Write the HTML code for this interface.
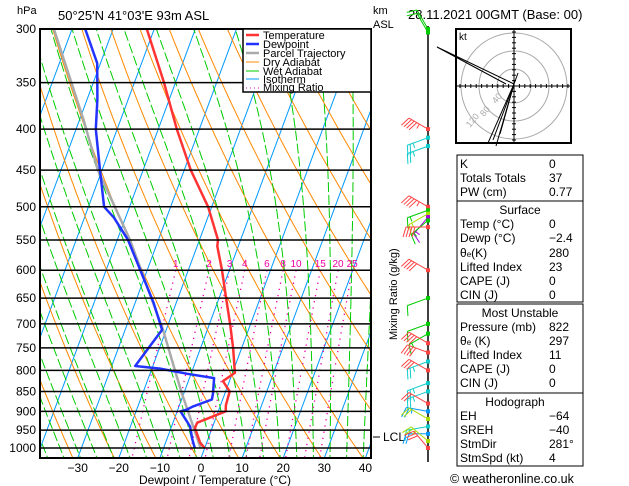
<!DOCTYPE html>
<html><head><meta charset="utf-8"><style>
html,body{margin:0;padding:0;background:#fff;}
svg{display:block;font-family:"Liberation Sans","DejaVu Sans",sans-serif;}
.t{font-size:12px;fill:#000;}
.s{font-size:11px;fill:#000;}
</style></head><body>
<svg id="root" width="629" height="486" viewBox="0 0 629 486" xmlns="http://www.w3.org/2000/svg">
<defs><clipPath id="clip"><rect x="40" y="29" width="331" height="429"/></clipPath></defs>
<rect width="629" height="486" fill="#fff"/>
<text x="17" y="14" class="s">hPa</text>
<text x="58" y="20" style="font-size:13px">50°25'N  41°03'E  93m  ASL</text>
<text x="373" y="14" class="s">km</text>
<text x="373" y="28" class="s">ASL</text>
<text x="408" y="19" style="font-size:13px">28.11.2021  00GMT  (Base: 00)</text>
<g id="bg" clip-path="url(#clip)"></g>
<g id="prof" clip-path="url(#clip)"></g>
<g id="axes"></g>
<rect x="40" y="29" width="331" height="429" fill="none" stroke="#000" stroke-width="2"/>
<g>
<rect x="243" y="29" width="128" height="63" fill="#fff" stroke="#000" stroke-width="1.5"/>
<line x1="246" y1="35" x2="259" y2="35" stroke="#f33" stroke-width="2.5"/><text x="263" y="39" class="s">Temperature</text>
<line x1="246" y1="44" x2="259" y2="44" stroke="#23f" stroke-width="2.5"/><text x="263" y="48" class="s">Dewpoint</text>
<line x1="246" y1="53" x2="259" y2="53" stroke="#aaa" stroke-width="2.5"/><text x="263" y="57" class="s">Parcel Trajectory</text>
<line x1="246" y1="62" x2="259" y2="62" stroke="#f80" stroke-width="1"/><text x="263" y="66" class="s">Dry Adiabat</text>
<line x1="246" y1="71" x2="259" y2="71" stroke="#0c0" stroke-width="1"/><text x="263" y="75" class="s">Wet Adiabat</text>
<line x1="246" y1="79" x2="259" y2="79" stroke="#09f" stroke-width="1"/><text x="263" y="83" class="s">Isotherm</text>
<line x1="246" y1="88" x2="259" y2="88" stroke="#e0a" stroke-width="1" stroke-dasharray="1,3"/><text x="263" y="91" class="s">Mixing Ratio</text>
</g>
<text transform="translate(397,340) rotate(-90)" class="s">Mixing Ratio (g/kg)</text>
<line x1="373" y1="437" x2="380" y2="437" stroke="#000"/>
<text x="383" y="441" class="t">LCL</text>
<line x1="428" y1="26" x2="428" y2="462" stroke="#000" stroke-width="1.5"/>
<g id="winds"></g>
<g>
<rect x="456" y="29" width="115" height="114" fill="#fff" stroke="#000" stroke-width="2"/>
<g fill="none" stroke="#aaa"><circle cx="514" cy="86" r="17"/><circle cx="514" cy="86" r="35"/><circle cx="514" cy="86" r="53"/></g>
<line x1="457" y1="86" x2="570" y2="86" stroke="#000"/><line x1="514" y1="30" x2="514" y2="142" stroke="#000"/>
<g id="hticks" stroke="#000"></g>
<text x="459" y="40" style="font-size:10px">kt</text>
<g fill="#aaa" style="font-size:9px"><text transform="translate(470,128) rotate(-50)">120</text><text transform="translate(484,117) rotate(-50)">80</text><text transform="translate(496,104) rotate(-50)">40</text></g>
<g stroke="#000" stroke-width="1"><polyline points="514,84 437,47 506,84" fill="none"/><line x1="514" y1="84" x2="488" y2="143"/><line x1="514" y1="84" x2="493" y2="140"/><line x1="514" y1="84" x2="496" y2="146"/><line x1="514" y1="84" x2="500" y2="134"/><line x1="514" y1="84" x2="518" y2="73"/></g>
</g>
<g class="t">
<rect x="457" y="155" width="126" height="46" fill="none" stroke="#000"/>
<text x="460" y="168">K</text><text x="549" y="168">0</text>
<text x="460" y="182">Totals Totals</text><text x="549" y="182">37</text>
<text x="460" y="196">PW (cm)</text><text x="549" y="196">0.77</text>
<rect x="457" y="201" width="126" height="101" fill="none" stroke="#000"/>
<text x="520" y="214" text-anchor="middle">Surface</text>
<text x="460" y="228">Temp (°C)</text><text x="549" y="228">0</text>
<text x="460" y="242">Dewp (°C)</text><text x="549" y="242">−2.4</text>
<text x="460" y="257">θ<tspan style="font-size:8px">e</tspan>(K)</text><text x="549" y="257">280</text>
<text x="460" y="271">Lifted Index</text><text x="549" y="271">23</text>
<text x="460" y="285">CAPE (J)</text><text x="549" y="285">0</text>
<text x="460" y="299">CIN (J)</text><text x="549" y="299">0</text>
<rect x="457" y="304" width="126" height="89" fill="none" stroke="#000"/>
<text x="520" y="317" text-anchor="middle">Most Unstable</text>
<text x="460" y="331">Pressure (mb)</text><text x="549" y="331">822</text>
<text x="460" y="345">θ<tspan style="font-size:8px">e</tspan> (K)</text><text x="549" y="345">297</text>
<text x="460" y="359">Lifted Index</text><text x="549" y="359">11</text>
<text x="460" y="373">CAPE (J)</text><text x="549" y="373">0</text>
<text x="460" y="387">CIN (J)</text><text x="549" y="387">0</text>
<rect x="457" y="393" width="126" height="73" fill="none" stroke="#000"/>
<text x="515" y="406" text-anchor="middle">Hodograph</text>
<text x="460" y="420">EH</text><text x="549" y="420">−64</text>
<text x="460" y="434">SREH</text><text x="549" y="434">−40</text>
<text x="460" y="448">StmDir</text><text x="549" y="448">281°</text>
<text x="460" y="462">StmSpd (kt)</text><text x="549" y="462">4</text>
</g>
<text x="450" y="483" style="font-size:12.5px">© weatheronline.co.uk</text>
<script>
// ---- data ----
const presLevels=[300,350,400,450,500,550,600,650,700,750,800,850,900,950,1000];
const tempP=[300,350,400,450,500,550,560,600,650,700,750,806,825,850,884,900,930,944,985,1000];
const tempT=[-51.8,-42.8,-35.5,-28.4,-20.9,-15.5,-15.1,-11.8,-8.3,-5.0,-2.1,0.6,-1.6,1.0,1.3,1.8,-4.1,-4.2,-1.6,0.0];
const dewP=[300,331,367,400,450,500,516,550,658,712,790,796,808,818,855,870,888,895,900,940,975,1000];
const dewT=[-66.8,-60.8,-57.5,-55.2,-50.5,-46.2,-42.8,-37.4,-25.6,-21.0,-24.3,-18.0,-10.9,-4.0,-2.9,-2.6,-6.7,-7.7,-9.2,-5.5,-3.8,-2.4];
const parcelP=[300,389,450,550,712,850,1000];
const parcelT=[-74.4,-59.1,-51.0,-36.9,-20.8,-10.8,-1.0];
const xTicks=[-30,-20,-10,0,10,20,30,40];
const mixRatios=[1,2,3,4,6,8,10,15,20,25];
const windP=[300,303,400,410,420,500,505,510,515,520,530,600,650,700,720,740,760,780,800,830,850,880,900,920,940,960,980,1000];
const windC=['#0c0','#0c0','#f44','#1cc','#1cc','#f44','#0c0','#ad0','#a0d','#0c0','#f44','#f44','#0c0','#0c0','#0c0','#f44','#f44','#1cc','#f44','#1cc','#1cc','#f44','#09f','#ad0','#1cc','#09f','#ad0','#f44'];
const windDir=[330,330,300,250,250,300,250,240,220,230,270,300,250,250,240,300,290,250,300,250,250,300,280,300,260,270,310,320];
const windSpd=[10,10,45,25,25,45,15,15,15,15,40,40,10,10,15,40,40,25,30,25,25,20,25,20,15,20,25,30];
// ---- scales ----
const NS='http://www.w3.org/2000/svg';
function yOf(p){return 448-419*Math.log(1000/p)/Math.log(1000/300);}
function xOf(T,p){return 201+4.11*T+0.37*(458-yOf(p));}
function mk(tag,attrs,parent){const e=document.createElementNS(NS,tag);for(const k in attrs)e.setAttribute(k,attrs[k]);parent.appendChild(e);return e;}
const bg=document.getElementById('bg'),prof=document.getElementById('prof'),axes=document.getElementById('axes');
function pts(f,p0,p1){let s=[];for(let p=p0;p<=p1+0.01;p+=10){const T=f(p);s.push(xOf(T,p).toFixed(1)+','+yOf(p).toFixed(1));}return s.join(' ');}
for(let T=-120;T<=50;T+=10){const l=mk('line',{x1:xOf(T,1050),y1:yOf(1050),x2:xOf(T,280),y2:yOf(280),stroke:'#09f','stroke-width':1},bg);

}
for(let th=220;th<=480;th+=10){const l=mk('polyline',{points:pts(p=>th*Math.pow(p/1000,0.286)-273.15,280,1050),fill:'none',stroke:'#f80','stroke-width':1},bg);

}
function es(Tc){return 6.112*Math.exp(17.67*Tc/(Tc+243.5));}
for(let T0=-40;T0<=44;T0+=4){let T=T0+273.15,s=[];for(let p=1050;p>=280;p-=5){
 const Tc=T-273.15,e=es(Tc),rs=0.622*e/(p-e);
 s.push(xOf(Tc,p).toFixed(1)+','+yOf(p).toFixed(1));
 const g=(287*T+2.5e6*rs)/(p*(1005+2.5e6*2.5e6*rs*0.622/(287*T*T)));T-=g*5;}
 const l=mk('polyline',{points:s.join(' '),fill:'none',stroke:'#0c0','stroke-width':1,'stroke-dasharray':'10,3'},bg);
 
 }
function tdOf(w,p){const e=w*p/(622+w);const a=Math.log(e/6.112);return 243.5*a/(17.67-a);}
mixRatios.forEach(w=>{const l=mk('polyline',{points:pts(p=>tdOf(w,p),600,1050),fill:'none',stroke:'#e0a','stroke-width':1.3,'stroke-dasharray':'1.3,5'},bg);
 
 
 const t=mk('text',{x:xOf(tdOf(w,600),600),y:yOf(600)-3,'text-anchor':'middle',fill:'#e0a','font-size':'10'},bg);t.textContent=w;
 
 });
presLevels.forEach(p=>{const l=mk('line',{x1:40,x2:371,y1:yOf(p),y2:yOf(p),stroke:'#000','stroke-width':1.5},axes);
 
 
 const t=mk('text',{x:36,y:yOf(p)+4,'text-anchor':'end',class:'t'},axes);t.textContent=p;
 
 });
xTicks.forEach(T=>{const t=mk('text',{x:201+4.11*T,y:472,'text-anchor':'middle',class:'t'},axes);t.textContent=(T<0?'−':'')+Math.abs(T);
 
 });
const xt=mk('text',{x:215,y:484,'text-anchor':'middle',class:'t'},axes);xt.textContent='Dewpoint / Temperature (°C)';


function prof_line(P,T,col,name){const l=mk('polyline',{points:P.map((p,i)=>xOf(T[i],p).toFixed(1)+','+yOf(p).toFixed(1)).join(' '),fill:'none',stroke:col,'stroke-width':2.5,'stroke-linejoin':'round'},prof);
 
 }
prof_line(parcelP,parcelT,'#aaa','parcel-trajectory');
prof_line(dewP,dewT,'#23f','dewpoint-line');
prof_line(tempP,tempT,'#f33','temperature-line');
const ht=document.getElementById('hticks');
for(let i=-10;i<=10;i++){if(!i)continue;mk('line',{x1:514+i*5.4,x2:514+i*5.4,y1:84,y2:88},ht);mk('line',{x1:512,x2:516,y1:86+i*5.4,y2:86+i*5.4},ht);}
const wg=document.getElementById('winds');
windP.forEach((p,i)=>{const y=yOf(p),a=windDir[i]*Math.PI/180,L=22;
 const dx=Math.sin(a),dy=-Math.cos(a);const x2=428+dx*L,y2=y+dy*L;
 const g=mk('g',{stroke:windC[i],fill:windC[i],'stroke-width':1},wg);
 
 
 mk('line',{x1:428,y1:y,x2:x2,y2:y2},g);
 let s=windSpd[i];const px=dy,py=-dx;
 let pos=0;
 while(s>=10){const bx=x2-dx*pos*3,by=y2-dy*pos*3;mk('line',{x1:bx,y1:by,x2:bx+px*10+dx*3,y2:by+py*10+dy*3},g);pos++;s-=10;}
 if(s>=5){const bx=x2-dx*pos*3,by=y2-dy*pos*3;mk('line',{x1:bx,y1:by,x2:bx+px*5,y2:by+py*5},g);}
 mk('rect',{x:426,y:y-2,width:4,height:4,stroke:'none'},g);
});
</script>
</svg>
</body></html>
